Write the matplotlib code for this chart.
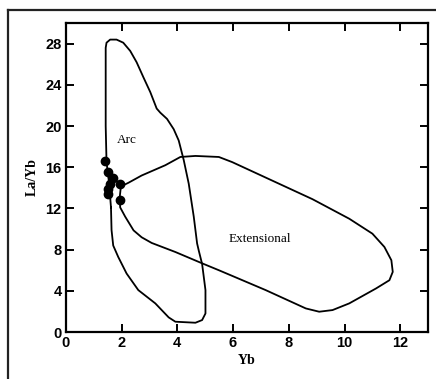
#! /usr/bin/python3
# La/Yb vs Yb discrimination diagram: arc and extensional fields with sample points

import matplotlib.pyplot as plt
from matplotlib.lines import Line2D

# field outlines (Yb, La/Yb), traced clockwise from the lower left
arc_yb = [1.62, 1.55, 1.46, 1.43, 1.43, 1.43, 1.46, 1.59, 1.82, 2.06, 2.31, 2.54, 2.79,
          3.03, 3.26, 3.39, 3.63, 3.87, 4.05, 4.23, 4.41, 4.59, 4.71, 4.77, 4.89, 5.01,
          5.01, 4.89, 4.65, 3.93, 3.69, 3.21, 2.6, 2.18, 1.88, 1.7, 1.64, 1.62]
arc_lay = [12.1, 14.5, 16.5, 20.0, 25.0, 27.6, 28.1, 28.4, 28.4, 28.1, 27.3, 26.2, 24.7,
           23.3, 21.7, 21.3, 20.7, 19.7, 18.6, 16.7, 14.4, 11.2, 8.6, 7.9, 6.6, 4.07,
           1.8, 1.16, 0.9, 1.0, 1.42, 2.78, 4.07, 5.68, 7.29, 8.4, 9.9, 12.1]

ext_yb = [1.97, 2.1, 2.25, 2.72, 3.57, 4.11, 4.65, 5.49, 5.97, 7.17, 8.85, 10.17, 11.0,
          11.43, 11.68, 11.73, 11.61, 11.13, 10.17, 9.57, 9.09, 8.61, 7.17, 5.97, 5.49,
          4.89, 3.93, 3.08, 2.72, 2.43, 2.13, 1.95, 1.93, 1.97]
ext_lay = [14.0, 14.3, 14.5, 15.2, 16.2, 17.0, 17.1, 17.0, 16.5, 15.0, 12.9, 11.0, 9.55,
           8.26, 6.97, 5.84, 5.03, 4.23, 2.78, 2.13, 1.97, 2.29, 4.07, 5.45, 6.0,
           6.67, 7.77, 8.65, 9.2, 9.87, 11.2, 12.1, 13.0, 14.0]

# samples
yb = [1.41, 1.5, 1.7, 1.58, 1.52, 1.52, 1.95, 1.95]
la_yb = [16.6, 15.5, 15.0, 14.4, 13.9, 13.4, 14.4, 12.85]

fig = plt.figure(figsize=(4.36, 3.79), dpi=100)
ax = fig.add_axes([0.151, 0.124, 0.831, 0.815])

ax.plot(arc_yb, arc_lay, color='black', lw=1.3)
ax.plot(ext_yb, ext_lay, color='black', lw=1.3)
ax.plot(yb, la_yb, 'o', color='black', ms=6, zorder=3)

ax.text(2.2, 18.6, 'Arc', family='Liberation Serif', fontsize=9.5, ha='center', va='center')
ax.text(6.95, 9.07, 'Extensional', family='Liberation Serif', fontsize=9.5,
        ha='center', va='center')

ax.set_xlim(0, 13)
ax.set_ylim(0, 30)
ax.set_xticks(range(0, 13, 2))
ax.set_yticks(range(0, 29, 4))
ax.tick_params(direction='in', length=6, width=1.4, top=True, right=True, pad=3)
for lab in ax.get_xticklabels() + ax.get_yticklabels():
    lab.set_family('Liberation Sans')
    lab.set_fontweight('bold')
    lab.set_fontsize(10.5)
for sp in ax.spines.values():
    sp.set_linewidth(1.6)

ax.set_xlabel('Yb', family='Liberation Serif', fontweight='bold', fontsize=10, labelpad=3)
ax.set_ylabel('La/Yb', family='Liberation Serif', fontweight='bold', fontsize=10, labelpad=5)

# outer border
fig.add_artist(Line2D([8 / 436, 8 / 436], [0, 1 - 10 / 379], transform=fig.transFigure,
                      color='#222222', lw=1.6))
fig.add_artist(Line2D([8 / 436, 1], [1 - 10 / 379, 1 - 10 / 379], transform=fig.transFigure,
                      color='#222222', lw=1.6))

fig.savefig('out.png', dpi=100)
